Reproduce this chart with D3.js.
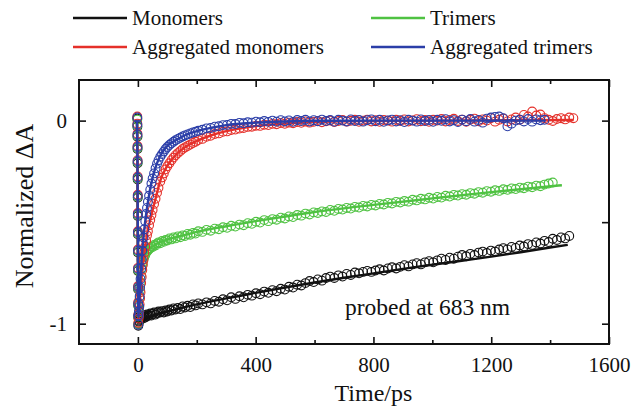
<!DOCTYPE html>
<html>
<head>
<meta charset="utf-8">
<script src="https://cdn.jsdelivr.net/npm/d3@7/dist/d3.min.js"></script>
<style>
  html, body { margin: 0; padding: 0; background: #fff; }
  svg { display: block; font-family: "Liberation Serif", "Times New Roman", Times, serif; }
</style>
</head>
<body>
<svg id="chart" width="641" height="410"></svg>
<script>
// Delay times (ps) shared by all four transients
const times = [
  -2.0, -1.75, -1.5, -1.25, -1.0, -0.75, -0.5, -0.25, 0, 0.25, 0.5, 0.75, 1.0, 1.25, 1.5,
  2.5, 3.5, 4.5, 6, 7.5, 9, 11, 13, 15, 17, 19, 22, 25, 28, 31, 34, 38, 42, 46, 50,
  55, 60, 65, 70, 76, 82, 88, 94, 100, 107, 114, 121, 128, 136, 144, 152, 160, 169, 178, 187, 196,
  205, 219, 233, 247, 261, 275, 289, 303, 317, 331, 345, 359, 373, 387, 401, 415, 429, 443, 457, 471,
  485, 499, 513, 527, 541, 555, 569, 583, 597, 611, 625, 639, 653, 667, 681, 695, 709, 723, 737, 751,
  765, 779, 793, 807, 821, 835, 849, 863, 877, 891, 905, 919, 933, 947, 961, 975, 989, 1003, 1017, 1031,
  1045, 1059, 1073, 1087, 1101, 1115, 1129, 1143, 1157, 1171, 1185, 1199, 1213, 1227, 1241, 1255, 1269, 1283, 1297, 1311,
  1325, 1339, 1353, 1367, 1381, 1395, 1409, 1423, 1437, 1451, 1465, 1479
];

// Normalized ΔA, measured points
const monomers = [
  0.01, -0.03, -0.08, -0.14, -0.21, -0.29, -0.38, -0.47, -0.56, -0.65, -0.74, -0.83, -0.91, -0.97, -1.01,
  -1.0, -0.99, -0.985, -0.975, -0.98, -0.97, -0.975, -0.965, -0.97, -0.975, -0.965, -0.96, -0.97, -0.965, -0.955, -0.962, -0.958, -0.95, -0.96, -0.952,
  -0.945, -0.955, -0.948, -0.94, -0.945, -0.938, -0.945, -0.935, -0.94, -0.93, -0.935, -0.925, -0.93, -0.922, -0.928, -0.915, -0.92, -0.912, -0.918, -0.905, -0.91,
  -0.9, -0.905, -0.895, -0.9, -0.888, -0.892, -0.88, -0.885, -0.87, -0.878, -0.865, -0.87, -0.858, -0.862, -0.85, -0.855, -0.842, -0.848, -0.835, -0.84,
  -0.828, -0.832, -0.818, -0.822, -0.808, -0.812, -0.8, -0.79, -0.795, -0.782, -0.788, -0.775, -0.768, -0.775, -0.762, -0.768, -0.755, -0.76, -0.748, -0.752,
  -0.745, -0.74, -0.745, -0.738, -0.732, -0.738, -0.728, -0.722, -0.728, -0.72, -0.712, -0.718, -0.708, -0.702, -0.708, -0.698, -0.692, -0.698, -0.688, -0.68,
  -0.686, -0.675, -0.68, -0.67, -0.662, -0.668, -0.656, -0.662, -0.65, -0.645, -0.652, -0.64, -0.645, -0.635, -0.628, -0.634, -0.622, -0.627, -0.615, -0.62,
  -0.608, -0.612, -0.6, -0.605, -0.592, -0.598, -0.582, -0.588, -0.575, -0.58, -0.568
];
const trimers = [
  0.005, -0.025, -0.075, -0.135, -0.205, -0.285, -0.375, -0.465, -0.555, -0.645, -0.735, -0.825, -0.905, -0.965, -1.0,
  -0.96, -0.945, -0.92, -0.875, -0.835, -0.8, -0.76, -0.73, -0.71, -0.695, -0.685, -0.67, -0.662, -0.65, -0.645, -0.64, -0.632, -0.628, -0.62, -0.622,
  -0.612, -0.615, -0.605, -0.6, -0.604, -0.593, -0.597, -0.588, -0.59, -0.58, -0.585, -0.575, -0.58, -0.57, -0.574, -0.565, -0.568, -0.558, -0.562, -0.553, -0.556,
  -0.545, -0.548, -0.538, -0.542, -0.532, -0.535, -0.525, -0.528, -0.518, -0.522, -0.512, -0.515, -0.505, -0.508, -0.498, -0.502, -0.49, -0.495, -0.485, -0.488,
  -0.478, -0.482, -0.472, -0.475, -0.465, -0.468, -0.458, -0.462, -0.452, -0.455, -0.447, -0.45, -0.44, -0.444, -0.435, -0.438, -0.43, -0.433, -0.425, -0.428,
  -0.42, -0.423, -0.415, -0.418, -0.41, -0.413, -0.405, -0.408, -0.4, -0.403, -0.396, -0.399, -0.39, -0.393, -0.385, -0.388, -0.38, -0.384, -0.376, -0.379,
  -0.37, -0.374, -0.366, -0.369, -0.362, -0.365, -0.357, -0.36, -0.352, -0.355, -0.347, -0.35, -0.343, -0.346, -0.338, -0.341, -0.334, -0.337, -0.33, -0.333,
  -0.325, -0.328, -0.32, -0.323, -0.315, -0.31, -0.305
];
const aggMonomers = [
  0.02, -0.015, -0.065, -0.125, -0.195, -0.275, -0.365, -0.455, -0.545, -0.635, -0.725, -0.815, -0.895, -0.955, -0.995,
  -0.975, -0.96, -0.94, -0.905, -0.875, -0.845, -0.8, -0.77, -0.735, -0.71, -0.685, -0.65, -0.62, -0.59, -0.565, -0.545, -0.515, -0.49, -0.465, -0.44,
  -0.41, -0.385, -0.355, -0.33, -0.3, -0.28, -0.26, -0.24, -0.225, -0.21, -0.195, -0.182, -0.17, -0.16, -0.15, -0.14, -0.132, -0.125, -0.118, -0.11, -0.104,
  -0.096, -0.09, -0.08, -0.075, -0.066, -0.063, -0.055, -0.053, -0.046, -0.044, -0.039, -0.036, -0.031, -0.03, -0.025, -0.026, -0.02, -0.022, -0.016, -0.018,
  -0.012, -0.016, -0.01, -0.013, -0.007, -0.011, -0.004, -0.01, -0.006, -0.002, -0.008, -0.003, 0.0, -0.007, -0.002, 0.003, -0.005, -0.001, 0.004, -0.006,
  0.0, 0.005, -0.004, 0.002, -0.006, 0.003, 0.0, -0.005, 0.004, -0.002, 0.006, -0.004, 0.001, 0.007, -0.003, 0.003, -0.006, 0.004, 0.0, 0.008,
  -0.004, 0.003, 0.009, -0.002, 0.005, -0.006, 0.004, 0.01, -0.003, 0.006, 0.0, 0.012, -0.005, 0.004, 0.01, -0.004, 0.006, 0.015, 0.004, 0.028,
  0.02, 0.045, 0.025, 0.03, 0.012, 0.004, -0.002, 0.008, 0.012, 0.006, 0.015, 0.012
];
const aggTrimers = [
  0.015, -0.02, -0.07, -0.13, -0.2, -0.28, -0.37, -0.46, -0.55, -0.64, -0.73, -0.82, -0.9, -0.96, -1.005,
  -0.96, -0.94, -0.915, -0.865, -0.82, -0.78, -0.73, -0.685, -0.64, -0.605, -0.575, -0.535, -0.495, -0.46, -0.43, -0.4, -0.37, -0.34, -0.31, -0.285,
  -0.26, -0.235, -0.212, -0.195, -0.178, -0.165, -0.152, -0.14, -0.13, -0.12, -0.112, -0.104, -0.097, -0.09, -0.084, -0.078, -0.073, -0.068, -0.063, -0.058, -0.055,
  -0.05, -0.045, -0.038, -0.036, -0.03, -0.028, -0.022, -0.021, -0.016, -0.017, -0.011, -0.013, -0.008, -0.01, -0.005, -0.008, -0.002, -0.006, 0.0, -0.005,
  0.002, -0.004, 0.001, -0.006, 0.003, -0.002, 0.004, -0.004, 0.002, -0.003, 0.005, -0.002, 0.003, -0.005, 0.004, 0.0, -0.004, 0.006, -0.002, 0.003,
  -0.005, 0.002, 0.006, -0.003, 0.004, -0.006, 0.001, 0.005, -0.004, 0.002, -0.007, 0.004, 0.0, -0.005, 0.006, -0.002, 0.003, -0.006, 0.004, -0.001,
  0.007, -0.004, 0.002, -0.007, 0.005, -0.003, 0.008, -0.005, 0.003, -0.01, 0.01, 0.015, 0.018, 0.02, 0.012, -0.028, -0.015, 0.0, 0.005, -0.004,
  0.008, -0.005, 0.006, 0.002, 0.004
];

// Fitted kinetic traces
const monomersFitT = [-3, -1.5, -0.5, 0.5, 1.5, 5, 20, 50, 100, 200, 300, 400, 500, 600, 700, 800, 900, 1000, 1100, 1200, 1300, 1400, 1460];
const monomersFit  = [0, -0.2, -0.45, -0.75, -0.975, -0.978, -0.972, -0.96, -0.94, -0.905, -0.875, -0.848, -0.822, -0.797, -0.774, -0.752, -0.73, -0.71, -0.69, -0.67, -0.648, -0.625, -0.612];
const trimersFitT = [-3, -1.5, -0.5, 0.5, 1.5, 4, 6, 8, 10, 14, 20, 30, 40, 60, 80, 100, 150, 200, 300, 400, 500, 600, 800, 1000, 1200, 1440];
const trimersFit  = [0, -0.2, -0.45, -0.75, -0.97, -0.93, -0.87, -0.82, -0.77, -0.715, -0.68, -0.648, -0.632, -0.61, -0.596, -0.586, -0.566, -0.548, -0.52, -0.495, -0.472, -0.45, -0.415, -0.383, -0.352, -0.318];
const aggMonomersFitT = [-3, -1.5, -0.5, 0.5, 1.5, 4, 6, 8, 10, 14, 20, 30, 40, 50, 60, 75, 100, 130, 160, 200, 250, 300, 350, 400, 500, 600, 800, 1000, 1480];
const aggMonomersFit  = [0, -0.2, -0.45, -0.75, -0.975, -0.94, -0.9, -0.86, -0.82, -0.75, -0.67, -0.57, -0.5, -0.44, -0.385, -0.3, -0.222, -0.167, -0.131, -0.1, -0.072, -0.052, -0.038, -0.027, -0.014, -0.007, -0.002, 0, 0.003];
const aggTrimersFitT = [-3, -1.5, -0.5, 0.5, 1.5, 4, 6, 8, 10, 14, 20, 30, 40, 50, 60, 75, 100, 130, 160, 200, 250, 300, 400, 500, 600, 800, 1385];
const aggTrimersFit  = [0, -0.2, -0.45, -0.75, -0.97, -0.92, -0.86, -0.8, -0.75, -0.66, -0.56, -0.44, -0.35, -0.28, -0.23, -0.175, -0.125, -0.095, -0.072, -0.052, -0.035, -0.022, -0.01, -0.004, -0.001, 0, 0];

// Axis ticks
const xMajorTicks = [0, 400, 800, 1200, 1600];
const xMinorTicks = [200, 600, 1000, 1400];
const yTicks = [0, -0.5, -1];
const yTickLabels = ["0", "", "-1"];

const seriesNames = ["Monomers", "Trimers", "Aggregated monomers", "Aggregated trimers"];
const seriesColors = ["#111111", "#4fc242", "#e5302a", "#2b3ea8"];

const series = [
  { name: seriesNames[0], color: seriesColors[0], v: monomers, ft: monomersFitT, fv: monomersFit },
  { name: seriesNames[1], color: seriesColors[1], v: trimers, ft: trimersFitT, fv: trimersFit },
  { name: seriesNames[2], color: seriesColors[2], v: aggMonomers, ft: aggMonomersFitT, fv: aggMonomersFit },
  { name: seriesNames[3], color: seriesColors[3], v: aggTrimers, ft: aggTrimersFitT, fv: aggTrimersFit }
];

const serif = "Liberation Serif, Times New Roman, Times, serif";
const svg = d3.select("#chart");
const box = { left: 79, right: 609, top: 80, bottom: 344 };

const x = d3.scaleLinear().domain([-200, 1600]).range([box.left, box.right]);
const y = d3.scaleLinear().domain([-1.1, 0.2]).range([box.bottom, box.top]);

const plot = svg.append("g");

const line = d3.line().x(d => x(d[0])).y(d => y(d[1])).curve(d3.curveMonotoneX);

series.forEach(s => {
  const pts = s.v.map((v, i) => [times[i], v]);
  plot.append("g").selectAll("circle").data(pts).join("circle")
    .attr("cx", d => x(d[0])).attr("cy", d => y(d[1])).attr("r", 4.4)
    .attr("fill", "none").attr("stroke", s.color).attr("stroke-width", 1.1);
  plot.append("path").datum(s.ft.map((t, i) => [t, s.fv[i]]))
    .attr("d", line).attr("fill", "none").attr("stroke", s.color)
    .attr("stroke-width", 2.4).attr("stroke-linejoin", "round");
});

// Axes with inward ticks on all four sides
const fontSize = 21;
function styleAxis(g) {
  g.select(".domain").remove();
  g.selectAll(".tick line").attr("stroke", "#111").attr("stroke-width", 1.6);
  g.selectAll("text").attr("font-size", fontSize).attr("fill", "#111").attr("font-family", serif);
}

svg.append("g").attr("transform", `translate(0,${box.bottom})`)
  .call(d3.axisBottom(x).tickValues(xMajorTicks).tickSizeInner(-7).tickSizeOuter(0).tickPadding(13).tickFormat(d3.format("d")))
  .call(styleAxis);
svg.append("g").attr("transform", `translate(0,${box.bottom})`)
  .call(d3.axisBottom(x).tickValues(xMinorTicks).tickSizeInner(-4).tickSizeOuter(0).tickFormat(""))
  .call(styleAxis);
svg.append("g").attr("transform", `translate(0,${box.top})`)
  .call(d3.axisTop(x).tickValues(xMajorTicks).tickSizeInner(-7).tickSizeOuter(0).tickFormat(""))
  .call(styleAxis);
svg.append("g").attr("transform", `translate(0,${box.top})`)
  .call(d3.axisTop(x).tickValues(xMinorTicks).tickSizeInner(-4).tickSizeOuter(0).tickFormat(""))
  .call(styleAxis);
svg.append("g").attr("transform", `translate(${box.left},0)`)
  .call(d3.axisLeft(y).tickValues(yTicks).tickSizeInner(-7).tickSizeOuter(0).tickPadding(12)
    .tickFormat((d, i) => yTickLabels[i]))
  .call(styleAxis);
svg.append("g").attr("transform", `translate(${box.right},0)`)
  .call(d3.axisRight(y).tickValues(yTicks).tickSizeInner(-7).tickSizeOuter(0).tickFormat(""))
  .call(styleAxis);

// Frame
svg.append("rect").attr("x", box.left).attr("y", box.top)
  .attr("width", box.right - box.left).attr("height", box.bottom - box.top)
  .attr("fill", "none").attr("stroke", "#111").attr("stroke-width", 2);

// Axis titles
svg.append("text").attr("x", x(800)).attr("y", 401).attr("text-anchor", "middle")
  .attr("font-family", serif).attr("font-size", 24).attr("fill", "#111").text("Time/ps");
svg.append("text").attr("transform", `translate(33,206) rotate(-90)`)
  .attr("text-anchor", "middle").attr("font-family", serif).attr("font-size", 26)
  .attr("fill", "#111").text("Normalized ΔA");

// Annotation
svg.append("text").attr("x", 345).attr("y", 315).attr("font-family", serif)
  .attr("font-size", 23.5).attr("fill", "#111").text("probed at 683 nm");

// Legend
const legendPos = [[73, 18], [371, 18], [73, 47], [371, 47]];
series.forEach((s, i) => {
  const [lx, ly] = legendPos[i];
  svg.append("line").attr("x1", lx).attr("x2", lx + 54).attr("y1", ly).attr("y2", ly)
    .attr("stroke", s.color).attr("stroke-width", 2.6);
  svg.append("text").attr("x", lx + 59).attr("y", ly + 7).attr("font-family", serif)
    .attr("font-size", 21).attr("fill", "#111").text(s.name);
});
</script>
</body>
</html>
